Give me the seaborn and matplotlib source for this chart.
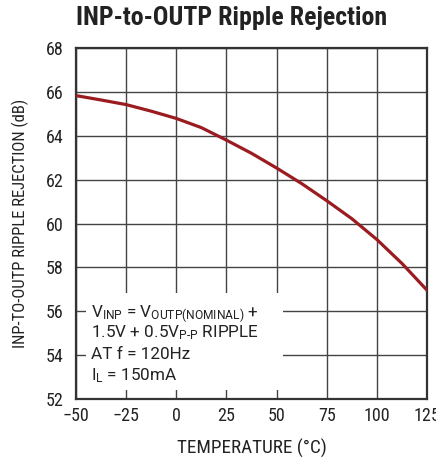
import matplotlib
matplotlib.use("Agg")
import matplotlib.pyplot as plt
import seaborn as sns
import pandas as pd
from matplotlib.patches import Rectangle

temperature = [-50, -37.5, -25, -12.5, 0, 12.5, 25, 37.5, 50, 62.5, 75, 87.5, 100, 112.5, 125]
rejection_db = [65.83, 65.63, 65.42, 65.12, 64.79, 64.37, 63.8, 63.2, 62.53, 61.82,
                61.04, 60.22, 59.27, 58.18, 56.96]
x_ticks = [-50, -25, 0, 25, 50, 75, 100, 125]
x_tick_labels = ["\u221250", "\u221225", "0", "25", "50", "75", "100", "125"]
y_ticks = [52, 54, 56, 58, 60, 62, 64, 66, 68]

sns.set_style("white")
FONT = ["Roboto Condensed", "PT Sans Narrow", "Archivo Narrow", "DejaVu Sans"]
NOTE_FONT = ["Roboto", "DejaVu Sans"]
plt.rcParams["font.family"] = FONT
plt.rcParams["mathtext.fontset"] = "custom"
plt.rcParams["mathtext.rm"] = "Roboto"
plt.rcParams["mathtext.it"] = "Roboto"
plt.rcParams["mathtext.bf"] = "Roboto:bold"

df = pd.DataFrame({"T": temperature, "R": rejection_db})

fig = plt.figure(figsize=(4.36, 4.69), dpi=100)
ax = fig.add_axes([76 / 436, 70 / 469, 351 / 436, 351 / 469])

sns.lineplot(data=df, x="T", y="R", ax=ax, color="#9b1c20", linewidth=2.3, zorder=5)

ax.set_xlim(-50, 125)
ax.set_ylim(52, 68)
ax.set_xticks(x_ticks)
ax.set_xticklabels(x_tick_labels)
ax.set_yticks(y_ticks)
ax.grid(True, color="#444444", linewidth=1.0)
ax.set_axisbelow(True)
ax.tick_params(axis="both", length=0, labelsize=13, colors="#222222")
ax.tick_params(axis="y", pad=9)
ax.tick_params(axis="x", pad=6)
for s in ax.spines.values():
    s.set_color("#333333")
    s.set_linewidth(1.6)

ax.set_xlabel("TEMPERATURE (\u00b0C)", fontsize=13.8, color="#222222", labelpad=10)
ax.set_ylabel("INP-TO-OUTP RIPPLE REJECTION (dB)", fontsize=12, color="#222222", labelpad=12)

ax.add_patch(Rectangle((0.028, 0.026), 0.562, 0.276, transform=ax.transAxes,
                       facecolor="white", edgecolor="none", zorder=3))
lines = [
    (0.234, r"$\mathrm{V_{INP}}$ = $\mathrm{V_{OUTP(NOMINAL)}}$ +"),
    (0.177, r"1.5V + 0.5$\mathrm{V_{P\text{-}P}}$ RIPPLE"),
    (0.114, "AT f = 120Hz"),
    (0.054, r"$\mathrm{I_L}$ = 150mA"),
]
for yy, t in lines:
    ax.text(0.043, yy, t, transform=ax.transAxes, fontsize=12.3, va="baseline",
            ha="left", color="#222222", zorder=4, family=NOTE_FONT)

fig.text(232 / 436, 1 - 18 / 469, "INP-to-OUTP Ripple Rejection", ha="center",
         va="center", fontsize=18.6, fontweight="bold", color="#222222")

fig.savefig("out.png", dpi=100)
